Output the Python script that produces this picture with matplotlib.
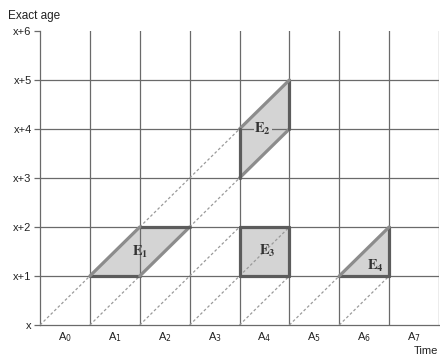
import matplotlib
matplotlib.use("Agg")
import matplotlib.pyplot as plt
from matplotlib.patches import Polygon

plt.rcParams["font.family"] = ["Liberation Sans", "DejaVu Sans"]

# Lexis diagram content
age_labels = ["x", "x+1", "x+2", "x+3", "x+4", "x+5", "x+6"]
period_labels = [r"A$_{%d}$" % i for i in range(8)]

# Cohort lifelines drawn dashed: (t0, a0, t1, a1)
life_start_t = [0, 2, 1, 3, 2, 3, 4, 5, 6]
life_start_a = [0, 2, 0, 2, 0, 0, 0, 0, 0]
life_end_t = [1, 4, 2, 4, 4, 5, 5, 6, 7]
life_end_a = [1, 4, 1, 3, 2, 2, 1, 1, 1]

# Observation sets (vertices in time, age)
sets = {
    "1": [(1, 1), (2, 1), (3, 2), (2, 2)],
    "2": [(4, 3), (5, 4), (5, 5), (4, 4)],
    "3": [(4, 1), (5, 1), (5, 2), (4, 2)],
    "4": [(6, 1), (7, 1), (7, 2)],
}
set_label_pos = {"1": (2.0, 1.5), "2": (4.47, 4.0), "3": (4.55, 1.52), "4": (6.72, 1.2)}

fig = plt.figure(figsize=(4.4, 3.56), dpi=100)
ax = fig.add_axes([40 / 440, 1 - 325 / 356, 399 / 440, 294 / 356])
ax.set_xlim(0, 8)
ax.set_ylim(0, 6)

grid_col = "#6a6a6a"
fill_col = "#d4d4d4"

# shaded regions
for key, verts in sets.items():
    ax.add_patch(Polygon(verts, closed=True, facecolor=fill_col, edgecolor="none", zorder=1))

# grid
for t in range(1, 9):
    ax.plot([t, t], [0, 6], color=grid_col, lw=0.9, zorder=2)
for a in range(1, 6):
    ax.plot([0, 8], [a, a], color=grid_col, lw=0.9, zorder=2)

# dashed lifelines
for t0, a0, t1, a1 in zip(life_start_t, life_start_a, life_end_t, life_end_a):
    ax.plot([t0, t1], [a0, a1], color="#9a9a9a", lw=0.9,
            dashes=(2.2, 1.8), zorder=3)

# region outlines: axis-parallel edges darker, diagonal edges lighter
for key, verts in sets.items():
    n = len(verts)
    for i in range(n):
        (x0, y0), (x1, y1) = verts[i], verts[(i + 1) % n]
        diag = (x0 != x1) and (y0 != y1)
        ax.plot([x0, x1], [y0, y1], color="#8c8c8c" if diag else "#5c5c5c",
                lw=2.3, solid_capstyle="round", zorder=4)
    tx, ty = set_label_pos[key]
    ax.text(tx, ty, r"$\mathbf{E}_{\mathbf{%s}}$" % key, math_fontfamily="stix",
            ha="center", va="center", fontsize=10.5, color="#333333", zorder=5,
            bbox=dict(boxstyle="square,pad=0.05", fc=fill_col, ec="none") if key == "2" else None)

# axes styling
for side in ["top", "right"]:
    ax.spines[side].set_visible(False)
ax.spines["left"].set_color(grid_col)
ax.spines["bottom"].set_color(grid_col)
ax.spines["left"].set_linewidth(0.9)
ax.spines["bottom"].set_linewidth(0.9)

ax.set_yticks(range(7))
ax.set_yticklabels(age_labels, fontsize=8, color="#222222")
ax.tick_params(axis="y", length=4, width=0.9, color=grid_col, pad=2)
ax.set_xticks([i + 0.5 for i in range(8)])
ax.set_xticklabels(period_labels, fontsize=8, color="#222222")
ax.tick_params(axis="x", length=0, pad=4)

fig.text(8 / 440, 1 - 16 / 356, "Exact age", fontsize=8.5, color="#222222",
         ha="left", va="center")
fig.text(438 / 440, 1 - 351.5 / 356, "Time", fontsize=8, color="#222222",
         ha="right", va="center")

fig.savefig("out.png", dpi=100)
